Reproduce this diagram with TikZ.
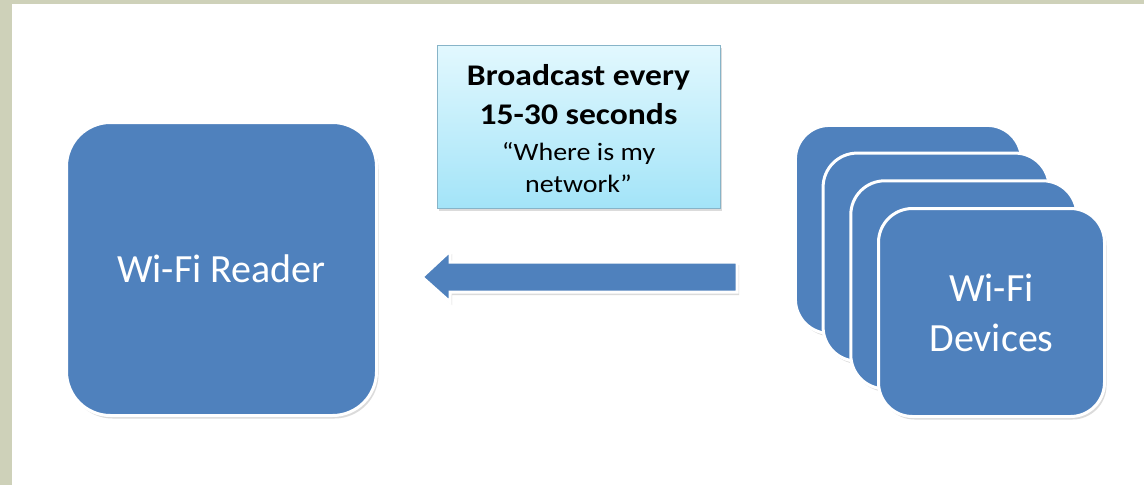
\documentclass[tikz,border=0pt]{standalone}
\usepackage{fontspec}
\setmainfont{Carlito}
\newfontfamily\calloutfont[FakeStretch=1.12]{Carlito}
\usetikzlibrary{shadows}
\definecolor{framegray}{RGB}{206,209,185}
\definecolor{officeblue}{RGB}{79,129,189}
\definecolor{calltop}{RGB}{226,248,254}
\definecolor{callbot}{RGB}{163,228,248}
\definecolor{callline}{RGB}{135,180,200}
\begin{document}
\begin{tikzpicture}[x=1pt,y=-1pt,
  softshadow/.style={drop shadow={opacity=0.28, shadow xshift=2pt, shadow yshift=-3pt}},
  bluebox/.style={rectangle, rounded corners=#1, fill=officeblue, draw=white,
    line width=3pt, text=white, font=\fontsize{40}{50}\selectfont,
    align=center, inner sep=0pt, softshadow},
  readerbox/.style={bluebox=44pt, minimum width=310pt, minimum height=293pt},
  devbox/.style={bluebox=34pt, minimum width=226pt, minimum height=208pt},
  calloutbox/.style={rectangle, top color=calltop, bottom color=callbot,
    draw=callline, line width=1pt, minimum width=283pt, minimum height=163pt,
    inner sep=0pt, softshadow},
  callouttext/.style={font=\calloutfont\fontsize{25}{36}\selectfont,
    align=center, inner sep=0pt, text=black},
  arrowshape/.style={fill=officeblue, draw=white, line width=3pt,
    line join=miter, softshadow}
]
% background and frame
\fill[framegray] (0,0) rectangle (1144,485);
\fill[white] (12,4) rectangle (1144,485);
\useasboundingbox (0,0) rectangle (1144,485);

% Wi-Fi reader
\node[readerbox] (reader) at (221.5,269) {Wi-Fi Reader};

% callout
\node[calloutbox] (callout) at (578.5,126.5) {};
\node[callouttext] (calltext) at (578.5,129)
  {{\bfseries\fontsize{30}{36}\selectfont Broadcast every}\\[3pt]
   {\bfseries\fontsize{30}{36}\selectfont 15-30 seconds}\\
   “Where is my\\[-4pt]network”};

% block arrow
\coordinate (arrowtip) at (422,277);
\coordinate (arrowtail) at (737,277);
\draw[arrowshape] (arrowtip) -- (450,251) -- (450,262) -- (arrowtail |- 0,262)
  -- (arrowtail |- 0,292) -- (450,292) -- (450,302) -- cycle;

% Wi-Fi devices stack
\node[devbox] (dev4) at (908.4,229.4) {};
\node[devbox] (dev3) at (936.1,257.1) {};
\node[devbox] (dev2) at (963.8,284.8) {};
\node[devbox] (dev1) at (991.5,312.5) {Wi-Fi\\Devices};
\end{tikzpicture}
\end{document}
